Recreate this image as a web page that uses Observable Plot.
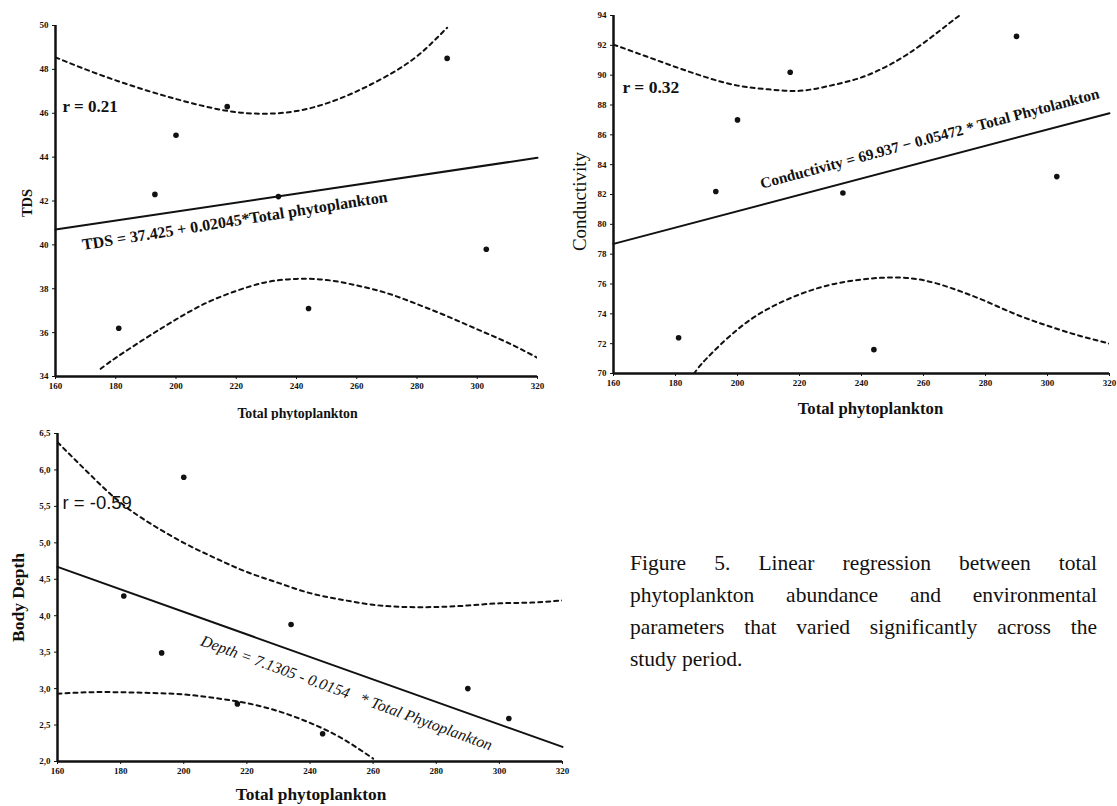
<!DOCTYPE html>
<html><head><meta charset="utf-8">
<script src="https://cdn.jsdelivr.net/npm/d3@7"></script>
<script src="https://cdn.jsdelivr.net/npm/@observablehq/plot@0.6"></script>
<style>
body{margin:0;background:#fff;}
#root{position:relative;width:1117px;height:806px;overflow:hidden;background:#fff;}
.panel{position:absolute;}
.panel svg{overflow:visible;display:block;}
#caption{position:absolute;left:630px;top:547px;width:467px;font-family:"Liberation Serif",serif;font-size:21.5px;line-height:32px;color:#111;}
#caption .j{text-align:justify;text-align-last:justify;}
</style>
</head><body>
<div id="root">
  <div class="panel" id="p1" style="left:0;top:0"></div>
  <div class="panel" id="p2" style="left:560px;top:0"></div>
  <div class="panel" id="p3" style="left:0;top:420px"></div>
  <div id="caption">
    <div class="j">Figure 5. Linear regression between total</div>
    <div class="j">phytoplankton abundance and environmental</div>
    <div class="j">parameters that varied significantly across the</div>
    <div>study period.</div>
  </div>
</div>
<script>
// ---- data ----
const phyto = [181, 193, 200, 217, 234, 244, 290, 303];
const tds = [36.2, 42.3, 45.0, 46.3, 42.2, 37.1, 48.5, 39.8];
const conductivity = [72.4, 82.2, 87.0, 90.2, 82.1, 71.6, 92.6, 83.2];
const bodyDepth = [4.27, 3.49, 5.9, 2.79, 3.88, 2.38, 3.0, 2.59];

const fitX = [160, 320];
const tdsFit = [40.70, 43.97];
const condFit = [78.69, 87.45];
const depthFit = [4.67, 2.20];

const tdsUpperX = [160, 170, 180, 190, 200, 210, 220, 230, 240, 250, 260, 270, 280, 290];
const tdsUpperY = [48.55, 48.0, 47.5, 47.05, 46.65, 46.3, 46.05, 45.98, 46.1, 46.45, 47.0, 47.7, 48.6, 49.9];
const tdsLowerX = [175, 180, 190, 200, 210, 220, 230, 240, 250, 260, 270, 280, 290, 300, 310, 320];
const tdsLowerY = [34.35, 34.85, 35.75, 36.6, 37.35, 37.9, 38.3, 38.45, 38.4, 38.15, 37.8, 37.3, 36.75, 36.15, 35.55, 34.85];

const condUpperX = [160, 170, 180, 190, 200, 210, 220, 230, 240, 250, 260, 270, 272];
const condUpperY = [92.05, 91.3, 90.55, 89.85, 89.3, 89.05, 88.95, 89.3, 89.85, 90.8, 92.15, 93.75, 94.0];
const condLowerX = [186, 190, 200, 210, 220, 230, 240, 250, 260, 270, 280, 290, 300, 310, 320];
const condLowerY = [70.0, 71.0, 72.95, 74.35, 75.3, 75.95, 76.3, 76.44, 76.25, 75.65, 74.85, 73.95, 73.2, 72.55, 72.0];

const depthUpperX = [160, 170, 180, 190, 200, 210, 220, 230, 240, 250, 260, 270, 280, 290, 300, 310, 320];
const depthUpperY = [6.38, 5.95, 5.55, 5.25, 5.0, 4.79, 4.6, 4.45, 4.31, 4.22, 4.15, 4.12, 4.12, 4.14, 4.17, 4.18, 4.21];
const depthLowerX = [160, 170, 180, 190, 200, 210, 220, 230, 240, 250, 260];
const depthLowerY = [2.93, 2.95, 2.95, 2.94, 2.92, 2.87, 2.80, 2.69, 2.53, 2.32, 2.04];

const xTicks = [160, 180, 200, 220, 240, 260, 280, 300, 320];
const tdsTicks = [34, 36, 38, 40, 42, 44, 46, 48, 50];
const condTicks = [70, 72, 74, 76, 78, 80, 82, 84, 86, 88, 90, 92, 94];
const depthTicks = [2.0, 2.5, 3.0, 3.5, 4.0, 4.5, 5.0, 5.5, 6.0, 6.5];
const depthTickLabels = ["2,0", "2,5", "3,0", "3,5", "4,0", "4,5", "5,0", "5,5", "6,0", "6,5"];

const zip = (xs, ys) => xs.map((x, i) => ({x, y: ys[i]}));
const ink = "#111";
const serif = "'Liberation Serif', 'Times New Roman', serif";
const sans = "'Liberation Sans', Arial, sans-serif";

function panel(c) {
  const pts = zip(phyto, c.values);
  const fit = zip(fitX, c.fit);
  const fitAt = (x) => c.fit[0] + (c.fit[1] - c.fit[0]) * (x - fitX[0]) / (fitX[1] - fitX[0]);
  return Plot.plot({
    width: c.width, height: c.height,
    marginLeft: c.ml, marginRight: c.mr, marginTop: c.mt, marginBottom: c.mb,
    x: {domain: [160, 320]},
    y: {domain: [c.yTicks[0], c.yTicks[c.yTicks.length - 1]]},
    style: {fontFamily: serif, fontSize: "9px", color: ink, background: "white"},
    marks: [
      Plot.axisX({ticks: xTicks, tickSize: 3, tickPadding: 3, label: null, fontWeight: "bold", fontSize: 9, fontFamily: serif}),
      Plot.axisY({ticks: c.yTicks, tickSize: 3, tickPadding: 4, label: null, fontWeight: "bold", fontSize: 9, fontFamily: serif,
        tickFormat: c.tickLabels ? ((d, i) => c.tickLabels[i]) : (d => d)}),
      Plot.ruleX([160], {stroke: ink, strokeWidth: 2.5}),
      Plot.ruleY([c.yTicks[0]], {stroke: ink, strokeWidth: 2.5}),
      Plot.line(zip(c.upX, c.upY), {x: "x", y: "y", stroke: ink, strokeWidth: 2, strokeDasharray: "4,4", curve: "natural", clip: true}),
      Plot.line(zip(c.loX, c.loY), {x: "x", y: "y", stroke: ink, strokeWidth: 2, strokeDasharray: "4,4", curve: "natural", clip: true}),
      Plot.line(fit, {x: "x", y: "y", stroke: ink, strokeWidth: 2}),
      Plot.dot(pts, {x: "x", y: "y", r: 2.8, fill: ink, stroke: null}),
      Plot.text([c.eq.text], {x: () => c.eq.at, y: () => fitAt(c.eq.at), text: d => d, rotate: c.eq.rotate, dy: c.eq.dy,
        fontSize: c.eq.size, fontWeight: c.eq.weight, fontStyle: c.eq.style || "normal", fill: ink,
        fontFamily: serif, textAnchor: "middle", lineAnchor: "middle"}),
      Plot.text([c.r.text], {frameAnchor: "top-left", dx: c.r.dx, dy: c.r.dy, text: d => d, textAnchor: "start", lineAnchor: "middle",
        fontSize: c.r.size, fontWeight: c.r.weight, fontFamily: c.r.family, fill: ink}),
      Plot.text([c.ylab.text], {frameAnchor: "left", rotate: -90, dx: c.ylab.dx, dy: c.ylab.dy, text: d => d,
        fontSize: c.ylab.size, fontWeight: c.ylab.weight, fontFamily: serif, fill: ink, textAnchor: "middle", lineAnchor: "middle"}),
      Plot.text([c.xlab.text], {frameAnchor: "bottom", dx: c.xlab.dx, dy: c.xlab.dy, text: d => d,
        fontSize: c.xlab.size, fontWeight: c.xlab.weight, fontFamily: serif, fill: ink, textAnchor: "middle", lineAnchor: "middle"})
    ]
  });
}

document.getElementById("p1").append(panel({
  width: 560, height: 420, ml: 55, mr: 23, mt: 25, mb: 44,
  values: tds, fit: tdsFit, yTicks: tdsTicks,
  upX: tdsUpperX, upY: tdsUpperY, loX: tdsLowerX, loY: tdsLowerY,
  eq: {text: "TDS = 37.425 + 0.02045*Total phytoplankton", at: 219.5, dy: 18, rotate: -9, size: 16, weight: "bold"},
  r: {text: "r = 0.21", dx: 7, dy: 81, size: 17, weight: "bold", family: serif},
  ylab: {text: "TDS", dx: -28, dy: 2, size: 14.5, weight: "bold"},
  xlab: {text: "Total phytoplankton", dx: 1, dy: 37, size: 13.8, weight: "bold"}
}));

document.getElementById("p2").append(panel({
  width: 557, height: 420, ml: 53, mr: 8, mt: 15, mb: 47,
  values: conductivity, fit: condFit, yTicks: condTicks,
  upX: condUpperX, upY: condUpperY, loX: condLowerX, loY: condLowerY,
  eq: {text: "Conductivity = 69.937 \u2212 0.05472 * Total Phytolankton", at: 262, dy: -22, rotate: -15, size: 15.3, weight: "bold"},
  r: {text: "r = 0.32", dx: 9, dy: 72, size: 17.5, weight: "bold", family: serif},
  ylab: {text: "Conductivity", dx: -34, dy: 7, size: 19, weight: "normal"},
  xlab: {text: "Total phytoplankton", dx: 9, dy: 35, size: 16.7, weight: "bold"}
}));

document.getElementById("p3").append(panel({
  width: 600, height: 386, ml: 57, mr: 38, mt: 13, mb: 45,
  values: bodyDepth, fit: depthFit, yTicks: depthTicks, tickLabels: depthTickLabels,
  upX: depthUpperX, upY: depthUpperY, loX: depthLowerX, loY: depthLowerY,
  eq: {text: "Depth = 7.1305 - 0.0154   * Total Phytoplankton", at: 251.6, dy: 23, rotate: 20, size: 15.8, weight: "normal", style: "italic"},
  r: {text: "r = -0.59", dx: 5, dy: 70, size: 18.5, weight: "normal", family: sans},
  ylab: {text: "Body Depth", dx: -39, dy: 0, size: 17.5, weight: "bold"},
  xlab: {text: "Total phytoplankton", dx: 1, dy: 33, size: 17.3, weight: "bold"}
}));
</script>
</body></html>
